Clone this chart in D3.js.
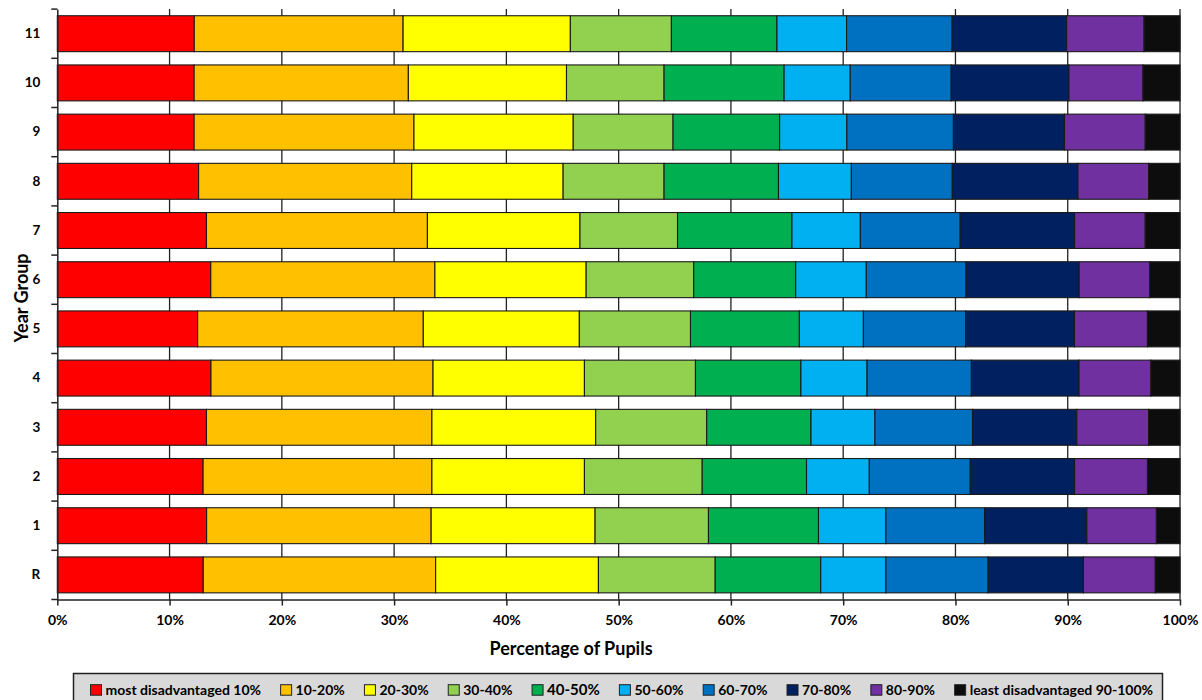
<!DOCTYPE html>
<html><head><meta charset="utf-8">
<script src="https://cdn.jsdelivr.net/npm/d3@7"></script>
<style>body{margin:0;background:#fff;} svg{display:block;font-family:Lato,"Open Sans",sans-serif;}</style>
</head><body><svg id="chart" width="1202" height="700"></svg>
<script>
// ---- data ----
const yearGroups = ["R","1","2","3","4","5","6","7","8","9","10","11"];
const seriesNames = ["most disadvantaged 10%","10-20%","20-30%","30-40%","40-50%","50-60%","60-70%","70-80%","80-90%","least disadvantaged 90-100%"];
const seriesColors = ["#FF0000","#FFC000","#FFFF00","#92D050","#00B050","#00B0F0","#0070C0","#002060","#7030A0","#0D0D0D"];
const dec0to10   = [13.0,13.3,13.0,13.3,13.7,12.5,13.7,13.3,12.6,12.2,12.2,12.2];
const dec10to20  = [20.7,20.0,20.4,20.1,19.8,20.1,20.0,19.7,19.0,19.6,19.1,18.6];
const dec20to30  = [14.5,14.6,13.6,14.6,13.5,13.9,13.5,13.6,13.5,14.2,14.1,14.9];
const dec30to40  = [10.4,10.1,10.5, 9.9, 9.9, 9.9, 9.6, 8.7, 9.0, 8.9, 8.7, 9.0];
const dec40to50  = [ 9.4, 9.8, 9.3, 9.3, 9.4, 9.7, 9.1,10.2,10.2, 9.5,10.7, 9.4];
const dec50to60  = [ 5.8, 6.0, 5.6, 5.7, 5.9, 5.7, 6.3, 6.1, 6.5, 6.0, 5.9, 6.2];
const dec60to70  = [ 9.1, 8.8, 9.0, 8.7, 9.3, 9.1, 8.9, 8.9, 9.0, 9.5, 9.0, 9.4];
const dec70to80  = [ 8.5, 9.1, 9.3, 9.3, 9.6, 9.7,10.1,10.2,11.2, 9.9,10.5,10.2];
const dec80to90  = [ 6.4, 6.2, 6.5, 6.4, 6.4, 6.5, 6.3, 6.3, 6.3, 7.2, 6.6, 6.9];
const dec90to100 = [ 2.2, 2.1, 2.9, 2.8, 2.6, 2.9, 2.7, 3.1, 2.8, 3.1, 3.3, 3.2];
const xTicks = [0,0.1,0.2,0.3,0.4,0.5,0.6,0.7,0.8,0.9,1.0];

const seriesValues = [dec0to10,dec10to20,dec20to30,dec30to40,dec40to50,dec50to60,dec60to70,dec70to80,dec80to90,dec90to100];
const rows = yearGroups.map((g,i)=>{
  const r = {group:g};
  seriesNames.forEach((s,j)=>{ r[s] = seriesValues[j][i]; });
  return r;
});

const svg = d3.select("#chart");
const x = d3.scaleLinear().domain([0,1]).range([57.3,1180]);
const y = d3.scaleBand().domain(yearGroups).range([599.5,9.1]).paddingInner(0.27).paddingOuter(0.135);
const color = d3.scaleOrdinal().domain(seriesNames).range(seriesColors);

const stack = d3.stack().keys(seriesNames).offset(d3.stackOffsetExpand);
const stacked = stack(rows);

const axisColor = "#222";

// gridlines
svg.append("g").selectAll("line").data(xTicks.slice(1)).join("line")
  .attr("x1",d=>x(d)).attr("x2",d=>x(d))
  .attr("y1",y.range()[1]).attr("y2",y.range()[0])
  .attr("stroke",axisColor).attr("stroke-width",1.3);

// bars
svg.append("g").selectAll("g").data(stacked).join("g")
  .attr("fill",d=>color(d.key))
  .selectAll("rect").data(d=>d).join("rect")
  .attr("x",d=>x(d[0])).attr("width",d=>x(d[1])-x(d[0]))
  .attr("y",d=>y(d.data.group)).attr("height",y.bandwidth())
  .attr("stroke","#1a1a1a").attr("stroke-width",1.1);

// bottom axis
const xAxis = svg.append("g").attr("transform",`translate(0,${y.range()[0]})`)
  .call(d3.axisBottom(x).tickValues(xTicks).tickFormat(d3.format(".0%")).tickSize(6).tickSizeOuter(0).tickPadding(9.5));
xAxis.select(".domain").attr("stroke",axisColor).attr("stroke-width",1.5);
xAxis.selectAll(".tick line").attr("stroke",axisColor).attr("stroke-width",1.5);
xAxis.selectAll("text").attr("font-size",14).attr("font-weight","bold").attr("fill","#000").attr("font-family","Lato");

// left axis
const yAxis = svg.append("g").attr("transform",`translate(${x.range()[0]},0)`)
  .call(d3.axisLeft(y).tickSize(0).tickPadding(17).tickSizeOuter(0));
yAxis.select(".domain").attr("stroke",axisColor).attr("stroke-width",1.5);
yAxis.selectAll("text").attr("font-size",13.5).attr("font-weight","bold").attr("fill","#000").attr("font-family","Lato");
// category boundary ticks
const boundaries = d3.range(yearGroups.length+1).map(i=>y.range()[1] + i*y.step());
svg.append("g").selectAll("line").data(boundaries).join("line")
  .attr("x1",x.range()[0]-6).attr("x2",x.range()[0])
  .attr("y1",d=>d).attr("y2",d=>d)
  .attr("stroke",axisColor).attr("stroke-width",1.5);

// titles
svg.append("text").attr("x",571).attr("y",655)
  .attr("text-anchor","middle").attr("font-size",18).attr("font-weight","bold").text("Percentage of Pupils");
svg.append("text").attr("transform",`translate(28,298) rotate(-90)`)
  .attr("text-anchor","middle").attr("font-size",18).attr("font-weight","bold").text("Year Group");

// legend
const lg = svg.append("g");
lg.append("rect").attr("x",73.5).attr("y",673.5).attr("width",1089).attr("height",34)
  .attr("fill","#D9D9D9").attr("stroke","#222").attr("stroke-width",1.5);
const items = lg.append("g").attr("transform","translate(0,692.7)");
const legendStart = 90.5, legendEnd = 1153;
const groups = seriesNames.map(s=>{
  const g = items.append("g");
  g.append("rect").attr("x",0).attr("y",-8).attr("width",11).attr("height",10.5)
    .attr("fill",color(s)).attr("stroke","#222").attr("stroke-width",1);
  const t = g.append("text").attr("x",15).attr("y",2).attr("font-size",s==="40-50%"?15:14)
    .attr("font-weight","bold").text(s);
  return {g, w: 15 + t.node().getComputedTextLength()};
});
const sumW = d3.sum(groups, d=>d.w);
const gap = (legendEnd - legendStart - sumW)/(groups.length-1);
let cx = legendStart;
groups.forEach(d=>{ d.g.attr("transform",`translate(${cx},0)`); cx += d.w + gap; });
</script></body></html>
